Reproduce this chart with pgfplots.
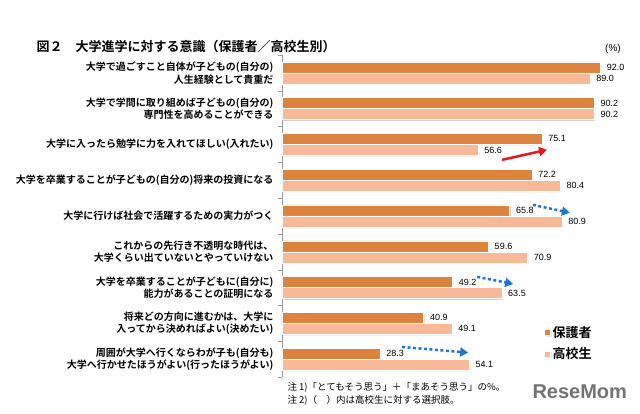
\documentclass[border=0pt]{standalone}
\usepackage{pgfplots}
\pgfplotsset{compat=1.18}
\usepackage{fontspec}
\setmainfont{Noto Sans CJK JP}[BoldFont={Noto Sans CJK JP Bold}]
\newfontfamily\numfont{Liberation Sans}
\usetikzlibrary{shadows,arrows.meta}
\definecolor{cpar}{RGB}{220,132,62}
\definecolor{cstu}{RGB}{248,185,152}
\definecolor{cblue}{RGB}{30,120,200}
\definecolor{cred}{RGB}{232,22,22}
\begin{document}
\begin{tikzpicture}[x=1pt,y=1pt]
\useasboundingbox (0,0) rectangle (640,414);
\node[anchor=west, font=\fontsize{13}{15}\selectfont\bfseries] at (33,367) {図２　大学進学に対する意識（保護者／高校生別）};
\node[font=\numfont\fontsize{10}{12}\selectfont] at (613,365) {(\%)};
\node[anchor=west, font=\fontsize{9.5}{11}\selectfont] at (284,27) {注 1)「とてもそう思う」＋「まあそう思う」の\%。};
\node[anchor=west, font=\fontsize{9.5}{11}\selectfont] at (284,14) {注 2)（　）内は高校生に対する選択肢。};
\node[anchor=west, font=\numfont\bfseries\fontsize{20}{22}\selectfont, text=black!55] at (529,22) {ReseMom};
\begin{axis}[
  at={(282pt,37pt)}, anchor=south west,
  scale only axis, width=346pt, height=322pt,
  xbar, bar width=11pt,
  xmin=0, xmax=100, ymin=-0.5, ymax=8.5,
  axis x line=none, axis y line*=left,
  y axis line style={draw=black!40},
  ytick={0,...,8},
  yticklabels={
    {周囲が大学へ行くならわが子も(自分も)\\大学へ行かせたほうがよい(行ったほうがよい)},
    {将来どの方向に進むかは、大学に\\入ってから決めればよい(決めたい)},
    {大学を卒業することが子どもに(自分に)\\能力があることの証明になる},
    {これからの先行き不透明な時代は、\\大学くらい出ていないとやっていけない},
    {大学に行けば社会で活躍するための実力がつく},
    {大学を卒業することが子どもの(自分の)将来の投資になる},
    {大学に入ったら勉学に力を入れてほしい(入れたい)},
    {大学で学問に取り組めば子どもの(自分の)\\専門性を高めることができる},
    {大学で過ごすこと自体が子どもの(自分の)\\人生経験として貴重だ}},
  major tick length=0pt,
  minor ytick={-0.5,0.5,...,8.5}, minor tick length=4pt, tick align=outside,
  minor tick style={black!40},
  yticklabel style={align=right, font=\fontsize{10}{12.5}\selectfont\bfseries, xshift=-5pt},
  nodes near coords,
  nodes near coords style={font=\numfont\fontsize{9}{10}\selectfont, anchor=west, xshift=3pt, text=black},
  legend style={at={(0.757,0.165)}, anchor=north west, draw=none, fill=none, inner sep=0pt,
    font=\fontsize{13}{15}\selectfont\bfseries, row sep=5pt},
  legend cell align=left,
  legend image code/.code={\fill[#1] (1pt,-3pt) rectangle (7pt,3pt);},
  /pgf/number format/fixed, /pgf/number format/fixed zerofill,
  /pgf/number format/precision=1, /pgf/number format/assume math mode=true,
]
\addplot[fill=cpar, draw=white, bar shift=5.5pt,
  drop shadow={shadow xshift=1.2pt, shadow yshift=-1.2pt, fill=black!35, opacity=0.5}]
  coordinates {(28.3,0) (40.9,1) (49.2,2) (59.6,3) (65.8,4) (72.2,5) (75.1,6) (90.2,7) (92.0,8)};
\addplot[fill=cstu, draw=white, bar shift=-5.5pt,
  drop shadow={shadow xshift=1.2pt, shadow yshift=-1.2pt, fill=black!35, opacity=0.5}]
  coordinates {(54.1,0) (49.1,1) (63.5,2) (70.9,3) (80.9,4) (80.4,5) (56.6,6) (90.2,7) (89.0,8)};
\legend{保護者,高校生}
\draw[cred, line width=2.5pt, -{Triangle[length=8pt,width=9pt]}] (axis cs:63.6,5.57) -- (axis cs:76.6,5.85);
\draw[cblue, line width=2.5pt, dash pattern=on 3pt off 2.5pt, -{Triangle[length=8pt,width=9pt]}] (axis cs:72.5,4.31) -- (axis cs:83.2,4.09);
\draw[cblue, line width=2.5pt, dash pattern=on 3pt off 2.5pt, -{Triangle[length=8pt,width=9pt]}] (axis cs:56.4,2.30) -- (axis cs:66.8,2.10);
\draw[cblue, line width=2.5pt, dash pattern=on 3pt off 2.5pt, -{Triangle[length=8pt,width=9pt]}] (axis cs:34.7,0.34) -- (axis cs:53.8,0.18);
\end{axis}
\end{tikzpicture}
\end{document}
